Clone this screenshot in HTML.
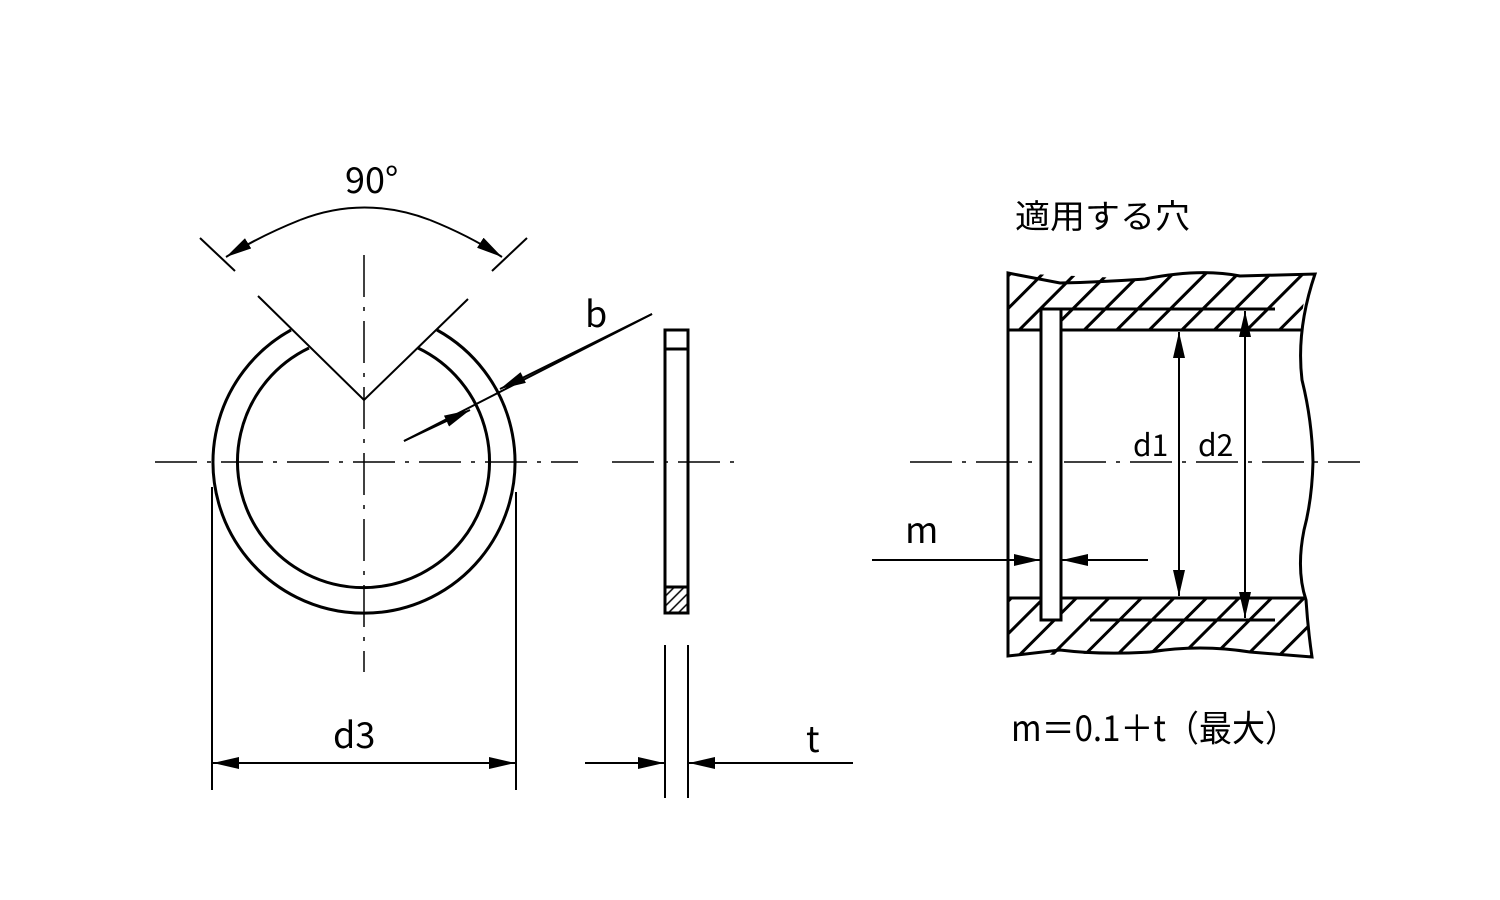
<!DOCTYPE html>
<html><head><meta charset="utf-8"><style>
html,body{margin:0;padding:0;background:#fff;}
svg{display:block;}
text{font-family:"Noto Sans CJK JP","Liberation Sans",sans-serif;fill:#000;}
</style></head><body>
<svg width="1500" height="900" viewBox="0 0 1500 900" xmlns="http://www.w3.org/2000/svg">
<defs>
<pattern id="h" patternUnits="userSpaceOnUse" width="23" height="23" patternTransform="rotate(45)">
<line x1="11" y1="0" x2="11" y2="23" stroke="#000" stroke-width="3"/>
</pattern>
<pattern id="hs" patternUnits="userSpaceOnUse" width="7" height="7" patternTransform="rotate(45)">
<line x1="3" y1="0" x2="3" y2="7" stroke="#000" stroke-width="1.5"/>
</pattern>
<marker id="a" markerWidth="26" markerHeight="12" refX="26" refY="6" orient="auto" markerUnits="userSpaceOnUse">
<path d="M0,0 L26,6 L0,12 Z" fill="#000"/>
</marker>
</defs>
<g fill="none" stroke="#000" stroke-width="2">
<g stroke-width="1.5" stroke-dasharray="42,10,4,10">
<line x1="155" y1="462" x2="578" y2="462"/>
<line x1="364" y1="255" x2="364" y2="672"/>
<line x1="612" y1="462" x2="740" y2="462"/>
</g>
<g stroke-width="3">
<path d="M291,330 A151,151 0 1 0 437,330"/>
<path d="M309,348 A126,126 0 1 0 418,348"/>
</g>
<path d="M258,296 L364,400 L468,299"/>
<line x1="200" y1="238" x2="235" y2="271"/>
<line x1="527" y1="238" x2="492" y2="271"/>
<path d="M300,220 Q364,195 430,220" />
<path d="M300,220 Q260,236 226,257" marker-end="url(#a)"/>
<path d="M430,220 Q470,236 502,257" marker-end="url(#a)"/>
<line x1="652" y1="314" x2="404" y2="441"/>
<line x1="652" y1="314" x2="500" y2="389" marker-end="url(#a)"/>
<line x1="404" y1="441" x2="470" y2="410" marker-end="url(#a)"/>
<rect x="665" y="330" width="23" height="283" stroke-width="3"/>
<line x1="665" y1="349" x2="688" y2="349" stroke-width="3"/>
<rect x="665" y="587" width="23" height="26" fill="url(#hs)" stroke-width="3"/>
<line x1="212" y1="487" x2="212" y2="790"/>
<line x1="516" y1="492" x2="516" y2="790"/>
<line x1="364" y1="763" x2="213" y2="763" marker-end="url(#a)"/>
<line x1="364" y1="763" x2="515" y2="763" marker-end="url(#a)"/>
<line x1="665" y1="645" x2="665" y2="798"/>
<line x1="688" y1="645" x2="688" y2="798"/>
<line x1="585" y1="763" x2="664" y2="763" marker-end="url(#a)"/>
<line x1="853" y1="763" x2="689" y2="763" marker-end="url(#a)"/>

<path d="M1008,273 L1145,279 Q1200,268 1240,276 L1315,274 Q1300,300 1302,330 L1061,330 L1061,309 L1041,309 L1041,330 L1008,330 Z" fill="url(#h)" stroke="none"/>
<path d="M1008,598 L1041,598 L1041,620 L1061,620 L1061,598 L1306,598 Q1306,630 1312,657 L1250,652 Q1200,644 1150,652 L1008,656 Z" fill="url(#h)" stroke="none"/>
<g stroke-width="3">
<path d="M1008,656 L1008,273 L1060,283 Q1100,282 1145,279 Q1200,268 1240,276 L1315,274 Q1296,330 1302,380 Q1312,420 1313,462 Q1312,500 1304,530 Q1296,570 1306,600 Q1308,630 1312,657 L1250,652 Q1200,644 1150,652 Q1100,655 1060,650 Z"/>
<line x1="1008" y1="330" x2="1302" y2="330"/>
<line x1="1008" y1="598" x2="1306" y2="598"/>
<rect x="1041" y="309" width="20" height="311" fill="#fff"/>
<line x1="1061" y1="309" x2="1275" y2="309"/>
<line x1="1090" y1="620" x2="1275" y2="620"/>
</g>
<g stroke-width="1.5" stroke-dasharray="42,10,4,10">
<line x1="910" y1="462" x2="1040" y2="462"/>
<line x1="1064" y1="462" x2="1360" y2="462"/>
</g>
<line x1="1179" y1="462" x2="1179" y2="332" marker-end="url(#a)"/>
<line x1="1179" y1="462" x2="1179" y2="596" marker-end="url(#a)"/>
<line x1="1245" y1="462" x2="1245" y2="311" marker-end="url(#a)"/>
<line x1="1245" y1="462" x2="1245" y2="618" marker-end="url(#a)"/>
<line x1="872" y1="560" x2="1040" y2="560" marker-end="url(#a)"/>
<line x1="1148" y1="560" x2="1062" y2="560" marker-end="url(#a)"/>
</g>
<rect x="1130" y="425" width="46" height="34" fill="#fff"/>
<rect x="1195" y="425" width="46" height="34" fill="#fff"/>
<text x="345" y="193" font-size="36">90°</text>
<text x="585" y="327" font-size="36">b</text>
<text x="333" y="748" font-size="36">d3</text>
<text x="806" y="752" font-size="36">t</text>
<text x="905" y="543" font-size="36">m</text>
<text x="1133" y="456" font-size="30">d1</text>
<text x="1198" y="456" font-size="30">d2</text>
<text x="1015" y="228" font-size="33" textLength="175" lengthAdjust="spacingAndGlyphs">適用する穴</text>
<text x="1011" y="741" font-size="36" textLength="287" lengthAdjust="spacingAndGlyphs">m＝0.1＋t（最大）</text>
</svg>
</body></html>
